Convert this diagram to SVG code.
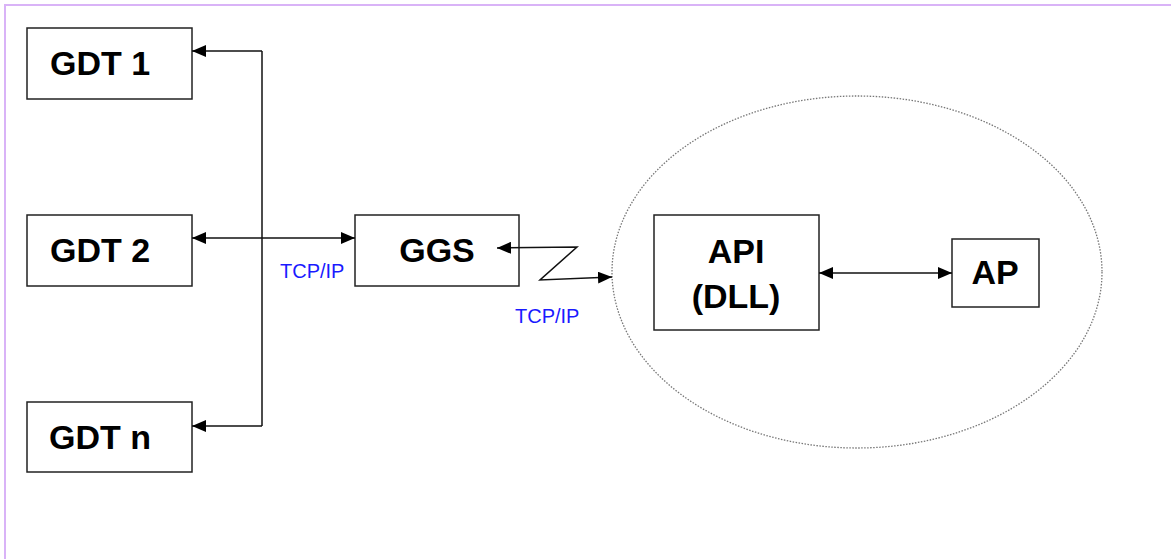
<svg xmlns="http://www.w3.org/2000/svg" width="1171" height="559" viewBox="0 0 1171 559">
<style>
.box{fill:#fff;stroke:#222;stroke-width:1.5}
.lbl{font-family:"Liberation Sans",Arial,sans-serif;font-weight:bold;font-size:34px;fill:#000}
.tcp{font-family:"Liberation Sans",Arial,sans-serif;font-size:20px;fill:#1a1aff}
.ln{fill:none;stroke:#111;stroke-width:1.5}
</style>
<defs>
<marker id="ah" viewBox="0 0 14 12" refX="14" refY="6" markerWidth="14" markerHeight="12" markerUnits="userSpaceOnUse" orient="auto-start-reverse">
<path d="M0,0 L14,6 L0,12 Z" fill="#000"/>
</marker>
</defs>
<rect x="0" y="0" width="1171" height="559" fill="#fff"/>
<path d="M5,559 V5 H1171" fill="none" stroke="#d9b3f7" stroke-width="2"/>
<ellipse id="ellipse" cx="857" cy="272" rx="245" ry="176" fill="none" stroke="#777" stroke-width="1.3" stroke-dasharray="1.5,1.5"/>
<g id="gdt1"><rect class="box" x="27" y="28" width="165" height="71"/><text class="lbl" x="100" y="75" text-anchor="middle">GDT 1</text></g>
<g id="gdt2"><rect class="box" x="27" y="215" width="165" height="71"/><text class="lbl" x="100" y="262" text-anchor="middle">GDT 2</text></g>
<g id="gdtn"><rect class="box" x="27" y="402" width="165" height="70"/><text class="lbl" x="100" y="449" text-anchor="middle">GDT n</text></g>
<g id="ggs"><rect class="box" x="355" y="215" width="164" height="71"/><text class="lbl" x="437" y="262" text-anchor="middle">GGS</text></g>
<g id="api"><rect class="box" x="654" y="215" width="165" height="115"/><text class="lbl" x="736" y="263" text-anchor="middle">API</text><text class="lbl" x="736" y="308" text-anchor="middle">(DLL)</text></g>
<g id="ap"><rect class="box" x="952" y="239" width="87" height="68"/><text class="lbl" x="995" y="284" text-anchor="middle">AP</text></g>
<g id="connectors">
<path class="ln" d="M262,51 V426" />
<path class="ln" d="M262,51 H192" marker-end="url(#ah)"/>
<path class="ln" d="M262,426 H192" marker-end="url(#ah)"/>
<path class="ln" d="M192,238 H355" marker-start="url(#ah)" marker-end="url(#ah)"/>
<path class="ln" d="M497,248 L577,247 L540,280 L612,277" marker-start="url(#ah)" marker-end="url(#ah)"/>
<path class="ln" d="M819,273 H952" marker-start="url(#ah)" marker-end="url(#ah)"/>
</g>
<text class="tcp" x="280" y="278">TCP/IP</text>
<text class="tcp" x="515" y="323">TCP/IP</text>
</svg>
